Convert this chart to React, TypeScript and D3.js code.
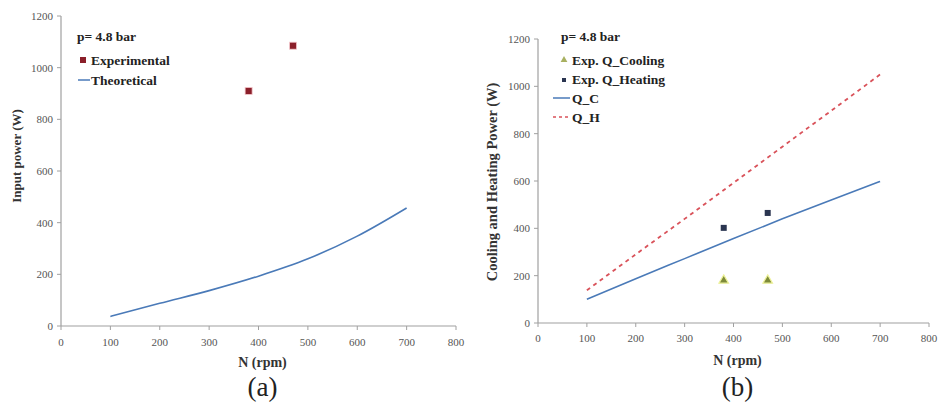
import React from "react";
import * as d3 from "d3";

const xTicks = [0, 100, 200, 300, 400, 500, 600, 700, 800];
const yTicks = [0, 200, 400, 600, 800, 1000, 1200];

// Panel (a)
const expN = [380, 470];
const expPower = [910, 1085];
const theoN = [100, 200, 300, 400, 500, 600, 700];
const theoPower = [37, 88, 137, 193, 260, 348, 457];

// Panel (b)
const expCoolN = [380, 470];
const expCool = [180, 180];
const expHeatN = [380, 470];
const expHeat = [402, 465];
const qN = [100, 200, 300, 400, 500, 600, 700];
const qC = [100, 187, 272, 357, 440, 520, 598];
const qH = [138, 290, 440, 592, 745, 897, 1050];

const serif = "Liberation Serif, Times New Roman, DejaVu Serif, serif";

function Panel(props: {
  x0: number; x1: number; y0: number; y1: number;
  yTitle: string; yTitleX: number; yTitleY: number; yTitleSize: number; label: string;
  xTitleY: number; labelY: number; tickY: number;
  children: (x: d3.ScaleLinear<number, number>, y: d3.ScaleLinear<number, number>) => React.ReactNode;
}) {
  const x = d3.scaleLinear().domain([0, 800]).range([props.x0, props.x1]);
  const y = d3.scaleLinear().domain([0, 1200]).range([props.y0, props.y1]);
  const cx = (props.x0 + props.x1) / 2;
  return (
    <g>
      <line x1={props.x0} x2={props.x1} y1={props.y0} y2={props.y0} stroke="#a0a0a0" strokeWidth={1.2} />
      <line x1={props.x0} x2={props.x0} y1={props.y0} y2={props.y1} stroke="#a0a0a0" strokeWidth={1.2} />
      {xTicks.map((t) => (
        <g key={"x" + t}>
          <line x1={x(t)} x2={x(t)} y1={props.y0} y2={props.y0 + 4} stroke="#a0a0a0" />
          <text x={x(t)} y={props.tickY} textAnchor="middle" fontSize={11} fill="#555" style={{ fontFamily: serif }}>{t}</text>
        </g>
      ))}
      {yTicks.map((t) => (
        <g key={"y" + t}>
          <line x1={props.x0 - 4} x2={props.x0} y1={y(t)} y2={y(t)} stroke="#a0a0a0" />
          <text x={props.x0 - 8} y={y(t) + 4} textAnchor="end" fontSize={11} fill="#555" style={{ fontFamily: serif }}>{t}</text>
        </g>
      ))}
      <text x={cx + 4} y={props.xTitleY} textAnchor="middle" fontSize={14} fontWeight="bold" fill="#333" style={{ fontFamily: serif }}>N (rpm)</text>
      <text x={cx + 4} y={props.labelY} textAnchor="middle" fontSize={27} fill="#222" style={{ fontFamily: serif }}>{props.label}</text>
      <text transform={`translate(${props.yTitleX},${props.yTitleY}) rotate(-90)`} textAnchor="middle" fontSize={props.yTitleSize} fontWeight="bold" fill="#333" style={{ fontFamily: serif }}>{props.yTitle}</text>
      {props.children(x, y)}
    </g>
  );
}

export default function App() {
  const line = (xs: number[], ys: number[], x: any, y: any) =>
    d3.line<number>().x((_, i) => x(xs[i])).y((_, i) => y(ys[i])).curve(d3.curveMonotoneX)(ys) || "";
  const tri = d3.symbol().type(d3.symbolTriangle).size(40)() || "";
  const leg = { fontSize: 13.5, fontWeight: "bold" as const, fill: "#222", style: { fontFamily: serif } };
  return (
    <svg width={938} height={406} style={{ position: "absolute", left: 0, top: 0, display: "block" }}>
      <rect width={938} height={406} fill="#fff" />
      <Panel x0={61} x1={456} y0={326} y1={16} yTitle="Input power (W)" yTitleX={21} yTitleY={156} yTitleSize={13}
        label="(a)" tickY={346} xTitleY={367} labelY={396}>
        {(x, y) => (
          <g>
            <path d={line(theoN, theoPower, x, y)} fill="none" stroke="#4a7ab8" strokeWidth={1.6} />
            {expN.map((n, i) => (
              <rect key={i} x={x(n) - 3.5} y={y(expPower[i]) - 3.5} width={7} height={7} fill="#8b1f2a" stroke="#f4c8cc" strokeWidth={0.8} />
            ))}
            <text x={77} y={41} {...leg}>p= 4.8 bar</text>
            <rect x={80} y={57} width={6} height={6} fill="#8b1f2a" />
            <text x={91} y={65} {...leg}>Experimental</text>
            <line x1={78} x2={90} y1={80} y2={80} stroke="#4a7ab8" strokeWidth={1.5} />
            <text x={91} y={85} {...leg}>Theoretical</text>
          </g>
        )}
      </Panel>
      <Panel x0={538} x1={929} y0={323} y1={39} yTitle="Cooling and Heating Power (W)" yTitleX={497} yTitleY={182} yTitleSize={14.5}
        label="(b)" tickY={342} xTitleY={365} labelY={396}>
        {(x, y) => (
          <g>
            <path d={line(qN, qH, x, y)} fill="none" stroke="#d9525a" strokeWidth={1.8} strokeDasharray="4,4" />
            <path d={line(qN, qC, x, y)} fill="none" stroke="#4a7ab8" strokeWidth={1.6} />
            {expHeatN.map((n, i) => (
              <rect key={"h" + i} x={x(n) - 3} y={y(expHeat[i]) - 3} width={6} height={6} fill="#2a3550" />
            ))}
            {expCoolN.map((n, i) => (
              <path key={"c" + i} d={tri} transform={`translate(${x(n)},${y(expCool[i])})`} fill="#7d8a3a" stroke="#eef29a" strokeWidth={1.2} />
            ))}
            <text x={561} y={41} {...leg}>p= 4.8 bar</text>
            <path d={d3.symbol().type(d3.symbolTriangle).size(20)() || ""} transform="translate(564,60)" fill="#a8b060" />
            <text x={572} y={65} {...leg}>Exp. Q_Cooling</text>
            <rect x={562} y={78} width={4} height={4} fill="#2a3550" />
            <text x={572} y={84} {...leg}>Exp. Q_Heating</text>
            <line x1={553} x2={570} y1={98} y2={98} stroke="#4a7ab8" strokeWidth={1.5} />
            <text x={572} y={103} {...leg}>Q_C</text>
            <line x1={553} x2={570} y1={117} y2={117} stroke="#d9525a" strokeWidth={1.5} strokeDasharray="3,3" />
            <text x={572} y={122} {...leg}>Q_H</text>
          </g>
        )}
      </Panel>
    </svg>
  );
}
